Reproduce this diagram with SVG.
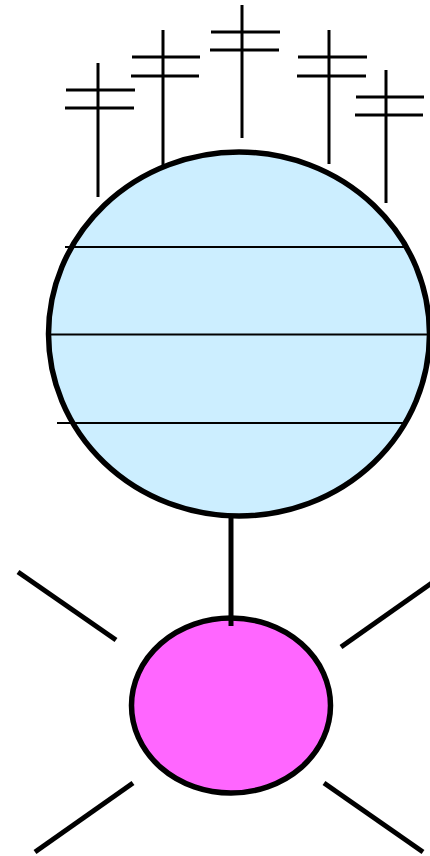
<svg xmlns="http://www.w3.org/2000/svg" width="430" height="856" viewBox="0 0 430 856">
<style>
.ant line{stroke:#000;stroke-width:3;fill:none}
.band{stroke:#000;stroke-width:2.2}
.conn line{stroke:#000;stroke-width:5;fill:none}
</style>
<rect width="430" height="856" fill="#fff"/>
<g id="antennas" class="ant">
<line x1="98" y1="63" x2="98" y2="197"/><line x1="66" y1="90" x2="135" y2="90"/><line x1="65" y1="108" x2="134" y2="108"/>
<line x1="163" y1="30" x2="163" y2="166"/><line x1="132" y1="57" x2="200" y2="57"/><line x1="131" y1="76" x2="199" y2="76"/>
<line x1="242" y1="5" x2="242" y2="138"/><line x1="211" y1="32" x2="280" y2="32"/><line x1="210" y1="50" x2="279" y2="50"/>
<line x1="329" y1="30" x2="329" y2="164"/><line x1="298" y1="57" x2="367" y2="57"/><line x1="297" y1="76" x2="366" y2="76"/>
<line x1="386" y1="70" x2="386" y2="203"/><line x1="356" y1="97" x2="424" y2="97"/><line x1="355" y1="115" x2="423" y2="115"/>
</g>
<g id="planet">
<ellipse cx="239" cy="334" rx="190.5" ry="182" fill="#cceeff"/>
<line class="band" x1="65" y1="247" x2="405" y2="247"/>
<line class="band" x1="50" y1="334.5" x2="430" y2="334.5"/>
<line class="band" x1="57" y1="423" x2="405" y2="423"/>
<ellipse cx="239" cy="334" rx="190.5" ry="182" fill="none" stroke="#000" stroke-width="5.5"/>
</g>
<g id="connectors" class="conn">
<line x1="231" y1="516" x2="231" y2="626"/>
<line x1="18" y1="572" x2="116" y2="640"/>
<line x1="341" y1="647" x2="436" y2="580"/>
<line x1="35" y1="852" x2="133" y2="783"/>
<line x1="324" y1="783" x2="423" y2="852"/>
</g>
<g id="core">
<ellipse cx="231" cy="705.5" rx="99.5" ry="87.5" fill="#ff66ff" stroke="#000" stroke-width="5.5"/>
<line x1="231" y1="616" x2="231" y2="626" stroke="#000" stroke-width="5"/>
</g>
</svg>
